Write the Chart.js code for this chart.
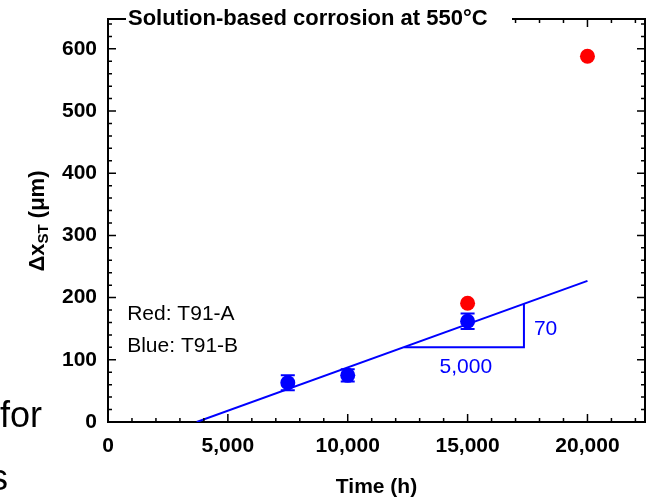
<!DOCTYPE html>
<html>
<head>
<meta charset="utf-8">
<script src="https://cdn.jsdelivr.net/npm/chart.js@4.4.1/dist/chart.umd.min.js"></script>
<style>
  html, body { margin: 0; padding: 0; background: #fff; }
  canvas { display: block; }
</style>
</head>
<body>
<canvas id="chart" width="649" height="500"></canvas>
<script>
// data
const redTime = [15000, 20000];
const redThick = [191, 588];
const blueTime = [7500, 10000, 15000];
const blueThick = [63, 75, 162];
const blueErr = [12, 10, 12.5];
const fitTime = [3700, 20000];
const fitThick = [0, 227];
const triTime = [12350, 17350, 17350];
const triThick = [120, 120, 190];
const xTicks = [0, 5000, 10000, 15000, 20000];
const yTicks = [0, 100, 200, 300, 400, 500, 600];

const FONT = 'Arial, "Liberation Sans", sans-serif';
const RED = '#ff0000';
const BLUE = '#0000ff';

const pts = (xs, ys) => xs.map((v, i) => ({ x: v, y: ys[i] }));

const extras = {
  id: 'extras',
  afterDatasetsDraw(chart) {
    const { ctx, scales: { x, y } } = chart;
    ctx.save();
    ctx.strokeStyle = BLUE;
    ctx.lineWidth = 2;
    blueTime.forEach((t, i) => {
      const px = x.getPixelForValue(t);
      const top = y.getPixelForValue(blueThick[i] + blueErr[i]);
      const bot = y.getPixelForValue(blueThick[i] - blueErr[i]);
      ctx.beginPath();
      ctx.moveTo(px, top); ctx.lineTo(px, bot);
      ctx.moveTo(px - 7, top); ctx.lineTo(px + 7, top);
      ctx.moveTo(px - 7, bot); ctx.lineTo(px + 7, bot);
      ctx.stroke();
    });
    ctx.restore();
  },
  afterDraw(chart) {
    const { ctx, chartArea: a, scales: { x, y } } = chart;
    ctx.save();
    // top and right frame
    ctx.strokeStyle = '#000';
    ctx.lineWidth = 2;
    ctx.beginPath();
    ctx.moveTo(a.left, a.top); ctx.lineTo(a.right, a.top); ctx.lineTo(a.right, a.bottom);
    ctx.stroke();

    // inward ticks on all four sides
    ctx.lineWidth = 1.5;
    ctx.beginPath();
    for (let v = 0; v <= x.max; v += 1000) {
      const px = x.getPixelForValue(v);
      const len = v % 5000 === 0 ? 8 : 4;
      ctx.moveTo(px, a.bottom); ctx.lineTo(px, a.bottom - len);
      ctx.moveTo(px, a.top); ctx.lineTo(px, a.top + len);
    }
    for (let v = 0; v <= y.max; v += 20) {
      const py = y.getPixelForValue(v);
      const len = v % 100 === 0 ? 8 : 4;
      ctx.moveTo(a.left, py); ctx.lineTo(a.left + len, py);
      ctx.moveTo(a.right, py); ctx.lineTo(a.right - len, py);
    }
    ctx.stroke();

    // title sitting on the top frame
    ctx.fillStyle = '#fff';
    ctx.fillRect(126, 0, 386, 31);
    ctx.fillStyle = '#000';
    ctx.font = `bold 22px ${FONT}`;
    ctx.textBaseline = 'alphabetic';
    ctx.textAlign = 'left';
    ctx.fillText('Solution-based corrosion at 550°C', 128, 25);

    // y axis title with subscript
    ctx.save();
    ctx.translate(36, 221);
    ctx.rotate(-Math.PI / 2);
    const big = `bold 22px ${FONT}`, small = `bold 15px ${FONT}`;
    ctx.font = big;
    const w1 = ctx.measureText('Δx').width;
    const w3 = ctx.measureText(' (μm)').width;
    ctx.font = small;
    const w2 = ctx.measureText('ST').width;
    let cx = -(w1 + w2 + w3) / 2;
    ctx.font = big;
    ctx.fillText('Δx', cx, 7.5);
    cx += w1;
    ctx.font = small;
    ctx.fillText('ST', cx, 12);
    cx += w2;
    ctx.font = big;
    ctx.fillText(' (μm)', cx, 7.5);
    ctx.restore();

    // legend-like notes
    ctx.font = `21px ${FONT}`;
    ctx.fillStyle = '#000';
    ctx.fillText('Red: T91-A', x.getPixelForValue(800), y.getPixelForValue(164));
    ctx.fillText('Blue: T91-B', x.getPixelForValue(800), y.getPixelForValue(113));

    // slope triangle labels
    ctx.fillStyle = BLUE;
    ctx.fillText('70', x.getPixelForValue(17766), y.getPixelForValue(140));
    ctx.textAlign = 'center';
    ctx.fillText('5,000', x.getPixelForValue(14925), y.getPixelForValue(79));

    // bits of slide text at the left edge
    ctx.textAlign = 'left';
    ctx.fillStyle = '#000';
    ctx.font = `36px ${FONT}`;
    ctx.fillText('for', 0, 427);
    ctx.fillText('s', -10, 490);
    ctx.restore();
  }
};

new Chart(document.getElementById('chart'), {
  type: 'scatter',
  data: {
    datasets: [
      {
        label: 'T91-A',
        data: pts(redTime, redThick),
        backgroundColor: RED,
        pointRadius: 7.5,
        pointBorderWidth: 0,
        order: 0
      },
      {
        label: 'T91-B',
        data: pts(blueTime, blueThick),
        backgroundColor: BLUE,
        pointRadius: 7.5,
        pointBorderWidth: 0,
        order: 0
      },
      {
        label: 'fit',
        data: pts(fitTime, fitThick),
        showLine: true,
        borderColor: BLUE,
        borderWidth: 2,
        pointRadius: 0,
        order: 1
      },
      {
        label: 'slope',
        data: pts(triTime, triThick),
        showLine: true,
        borderColor: BLUE,
        borderWidth: 2,
        pointRadius: 0,
        order: 1
      }
    ]
  },
  options: {
    responsive: false,
    animation: false,
    layout: { autoPadding: false, padding: { left: 0, top: 19, right: 4, bottom: 0 } },
    plugins: {
      legend: { display: false },
      tooltip: { enabled: false }
    },
    scales: {
      x: {
        type: 'linear',
        min: 0,
        max: 22400,
        grid: { display: false, drawTicks: false },
        border: { display: true, color: '#000', width: 2 },
        ticks: {
          autoSkip: false,
          maxRotation: 0,
          padding: 12,
          color: '#000',
          font: { family: FONT, size: 21, weight: 'bold' },
          callback: v => v.toLocaleString('en-US')
        },
        title: {
          display: true,
          text: 'Time (h)',
          color: '#000',
          font: { family: FONT, size: 21, weight: 'bold' },
          padding: { top: 0, bottom: 0 }
        },
        afterBuildTicks(s) { s.ticks = xTicks.map(v => ({ value: v })); },
        afterFit(s) { s.height = 78; s.paddingLeft = 0; s.paddingRight = 0; }
      },
      y: {
        min: 0,
        max: 648,
        grid: { display: false, drawTicks: false },
        border: { display: true, color: '#000', width: 2 },
        ticks: {
          padding: 11,
          color: '#000',
          font: { family: FONT, size: 21, weight: 'bold' }
        },
        afterBuildTicks(s) { s.ticks = yTicks.map(v => ({ value: v })); },
        afterFit(s) { s.width = 108; s.paddingTop = 0; s.paddingBottom = 0; }
      }
    }
  },
  plugins: [extras]
});
</script>
</body>
</html>
